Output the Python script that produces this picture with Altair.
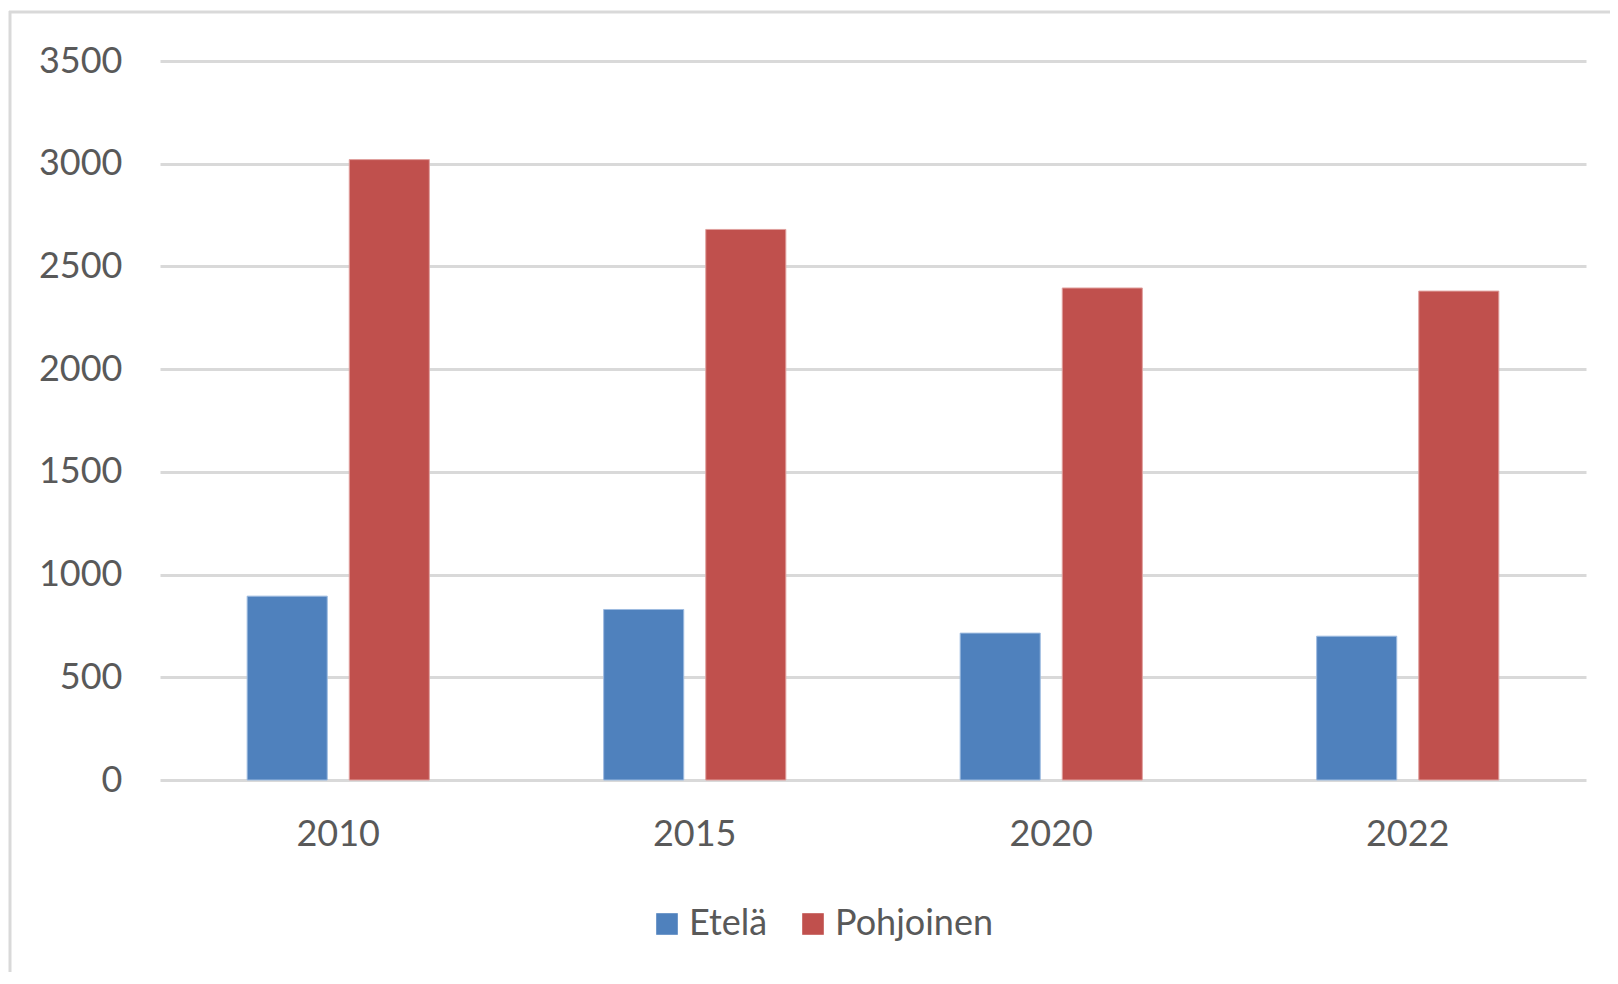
import altair as alt
import pandas as pd

# Data
years = ["2010", "2015", "2020", "2022"]
series = ["Etelä", "Pohjoinen"]
etela = [895, 830, 715, 700]
pohjoinen = [3020, 2680, 2395, 2380]
y_ticks = [0, 500, 1000, 1500, 2000, 2500, 3000, 3500]

fill_colors = ["#4f81bd", "#c0504d"]
edge_colors = ["#9dbbe0", "#e0a09e"]

rows = []
for i, yr in enumerate(years):
    rows.append({"Vuosi": yr, "Alue": series[0], "Arvo": etela[i]})
    rows.append({"Vuosi": yr, "Alue": series[1], "Arvo": pohjoinen[i]})
df = pd.DataFrame(rows)

W, H = 1426, 719
FONT = "Lato"
TXT = "#595959"

bars = alt.Chart(df).mark_bar(strokeWidth=1).encode(
    x=alt.X(
        "Vuosi:N",
        sort=years,
        scale=alt.Scale(paddingInner=0.489, paddingOuter=0.2445),
        axis=alt.Axis(title=None, labelAngle=0, domain=False, ticks=False,
                      tickSize=0, labelPadding=37, grid=False),
    ),
    xOffset=alt.XOffset(
        "Alue:N", sort=series,
        scale=alt.Scale(paddingInner=0.2157, paddingOuter=0),
    ),
    y=alt.Y(
        "Arvo:Q",
        scale=alt.Scale(domain=[0, 3500], nice=False),
        axis=alt.Axis(title=None, values=y_ticks, format="d", domain=False,
                      ticks=False, tickSize=0, labelPadding=38, grid=True,
                      gridColor="#d9d9d9", gridWidth=3),
    ),
    color=alt.Color(
        "Alue:N",
        sort=series,
        scale=alt.Scale(domain=series, range=fill_colors),
        legend=alt.Legend(
            title=None, orient="none", legendX=489, legendY=845,
            direction="horizontal", symbolType="square", symbolSize=467,
            symbolStrokeWidth=0, labelFontSize=36, labelFont=FONT,
            labelColor=TXT, columnPadding=27, labelOffset=4, padding=0,
        ),
    ),
    stroke=alt.Stroke(
        "Alue:N", sort=series,
        scale=alt.Scale(domain=series, range=edge_colors), legend=None,
    ),
)

frame = pd.DataFrame({"k": [0]})
border_left = alt.Chart(frame).mark_rule(color="#d9d9d9", strokeWidth=3).encode(
    x=alt.value(-150), y=alt.value(-50), y2=alt.value(H + 400)
)
border_top = alt.Chart(frame).mark_rule(color="#d9d9d9", strokeWidth=3).encode(
    x=alt.value(-151), x2=alt.value(W + 400), y=alt.value(-49)
)

chart = alt.layer(border_left, border_top, bars).properties(
    width=W,
    height=H,
    background="white",
    padding={"left": 152, "top": 53, "right": 24, "bottom": 192},
    autosize=alt.AutoSizeParams(type="none"),
).configure_view(stroke=None).configure_axis(
    labelFont=FONT, labelFontSize=36, labelColor=TXT
)

chart.save("out.html", embed_options={"renderer": "svg", "actions": False})
